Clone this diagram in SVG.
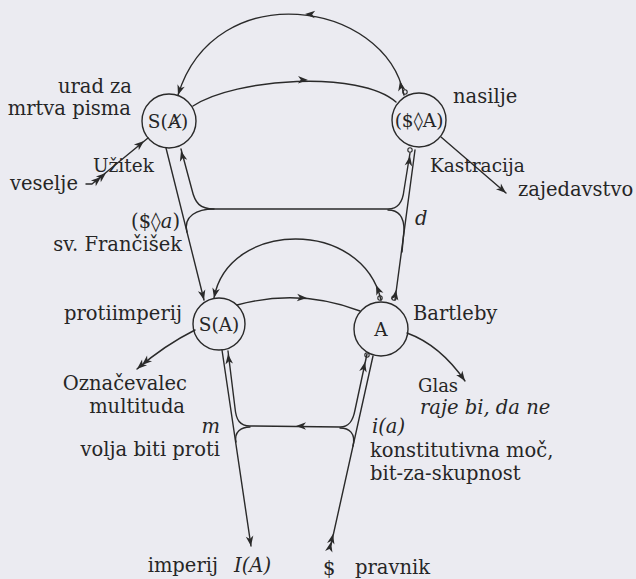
<svg xmlns="http://www.w3.org/2000/svg" xmlns:xlink="http://www.w3.org/1999/xlink" width="636" height="579" viewBox="0 0 636 579">
<style>
.bg{fill:#ebebf1}
.ln{fill:none;stroke:#2a2a2a;stroke-width:1.4;stroke-linecap:round;stroke-linejoin:round}
.nd{fill:none;stroke:#2a2a2a;stroke-width:1.4}
.tl{fill:none;stroke:#2a2a2a;stroke-width:1.1}
text{font-family:"DejaVu Serif","Liberation Serif",serif;font-size:19.5px;fill:#262626}
.it{font-style:italic}
.c{text-anchor:middle}
.e{text-anchor:end}
.sm{font-size:18.5px}
.xs{font-size:18px}
.ah{fill:#2a2a2a}
</style>
<defs>
<path id="ah" class="ah" d="M0,0 L-10,-3.8 L-7.2,0 L-10,3.8 Z"/>
</defs>
<rect class="bg" x="0" y="0" width="636" height="579"/>

<g id="connectors">
  <path class="ln" d="M178,95 C215,-25 385,0 404,95"/>
  <use xlink:href="#ah" transform="translate(305,14) rotate(183)"/>
  <use xlink:href="#ah" transform="translate(178,95) rotate(108)"/>
  <use xlink:href="#ah" transform="translate(400,81) rotate(-101)"/>
  <circle class="tl" cx="405" cy="92" r="2.2"/>
  <path class="ln" d="M193,106 C235,78 360,70 396,102"/>
  <use xlink:href="#ah" transform="translate(308,80) rotate(1)"/>
  <path class="ln" d="M86,184 L92,184 L148,138"/>
  <use xlink:href="#ah" transform="translate(144,141) rotate(-40)"/>
  <use xlink:href="#ah" transform="translate(101,177) rotate(-40)"/>
  <use xlink:href="#ah" transform="translate(106,173) rotate(-40)"/>
  <path class="ln" d="M441,137 L506,193"/>
  <use xlink:href="#ah" transform="translate(506,193) rotate(41)"/>
  <path class="ln" d="M166,148 L204,300"/>
  <use xlink:href="#ah" transform="translate(204,300) rotate(76)"/>
  <path class="ln" d="M415,150 L395,300"/>
  <use xlink:href="#ah" transform="translate(396,290) rotate(-82)"/>
  <circle class="tl" cx="394" cy="298" r="2.2"/>
  <path class="ln" d="M181,149 L192,190 C195,203 200,209 214,209 L388,209 C399,209 403,200 404,190 L410,153"/>
  <path class="ln" d="M214,209 C197,209 183,216 187,232"/>
  <path class="ln" d="M388,210 C400,210 404,218 404,230 L402,252"/>
  <use xlink:href="#ah" transform="translate(181,151) rotate(-105)"/>
  <use xlink:href="#ah" transform="translate(410,156) rotate(-81)"/>
  <circle class="tl" cx="410" cy="150" r="2.2"/>
  <path class="ln" d="M214,298 C228,220 362,218 381,300"/>
  <use xlink:href="#ah" transform="translate(214,298) rotate(102)"/>
  <use xlink:href="#ah" transform="translate(376,285) rotate(-113)"/>
  <circle class="tl" cx="380" cy="298" r="2.2"/>
  <path class="ln" d="M237,305 Q300,288 360,311"/>
  <use xlink:href="#ah" transform="translate(307,298) rotate(3)"/>
  <path class="ln" d="M407,333 Q440,345 465,381"/>
  <use xlink:href="#ah" transform="translate(465,381) rotate(55)"/>
  <path class="ln" d="M195,330 Q165,345 137,369"/>
  <use xlink:href="#ah" transform="translate(137,369) rotate(139)"/>
  <use xlink:href="#ah" transform="translate(142,365) rotate(139)"/>
  <path class="ln" d="M222,350 L251,546"/>
  <use xlink:href="#ah" transform="translate(251,546) rotate(81.6)"/>
  <path class="ln" d="M373,356 L331,545"/>
  <use xlink:href="#ah" transform="translate(333,534) rotate(-77)"/>
  <use xlink:href="#ah" transform="translate(331,542) rotate(-77)"/>
  <path class="ln" d="M228,351 L235,408 C236,420 240,426 250,426 L340,427 C349,427 353,421 355,410 L367,354"/>
  <path class="ln" d="M250,427 C241,427 234,432 236,442"/>
  <path class="ln" d="M340,428 C349,428 356,433 353,446"/>
  <use xlink:href="#ah" transform="translate(296,426) rotate(180)"/>
  <use xlink:href="#ah" transform="translate(228,354) rotate(-97)"/>
  <use xlink:href="#ah" transform="translate(365,362) rotate(-78)"/>
  <circle class="tl" cx="367" cy="355" r="2.2"/>
</g>

<g id="node-S-barredA-top">
  <circle class="nd" cx="169" cy="121" r="27"/>
  <text class="c sm" x="168" y="128">S(Ⱥ)</text>
</g>
<g id="node-S-losange-A">
  <circle class="nd" cx="419" cy="120" r="27"/>
  <text class="c sm" x="419" y="127">($◊A)</text>
</g>
<g id="node-S-A-lower">
  <circle class="nd" cx="219" cy="324" r="26"/>
  <text class="c sm" x="219" y="331">S(A)</text>
</g>
<g id="node-A">
  <circle class="nd" cx="381" cy="329" r="27"/>
  <text class="c sm" x="381" y="336">A</text>
</g>

<g id="labels">
  <text class="e" x="132" y="93">urad za</text>
  <text class="e" x="131" y="115">mrtva pisma</text>
  <text class="sm" x="93" y="172">Užitek</text>
  <text x="10" y="190">veselje</text>
  <text class="e" x="180" y="228">($◊<tspan class="it">a</tspan>)</text>
  <text class="e" x="182" y="251">sv. Frančišek</text>
  <text x="453" y="103">nasilje</text>
  <text class="sm" x="430" y="172">Kastracija</text>
  <text x="518" y="196">zajedavstvo</text>
  <text class="it" x="415" y="225">d</text>
  <text class="e" x="182" y="320">protiimperij</text>
  <text x="413" y="320">Bartleby</text>
  <text class="e" x="187" y="390">Označevalec</text>
  <text class="e" x="185" y="413">multituda</text>
  <text class="it e" x="220" y="433">m</text>
  <text class="e" x="220" y="456">volja biti proti</text>
  <text class="xs" x="418" y="392">Glas</text>
  <text class="it" x="420" y="414">raje bi, da ne</text>
  <text class="it" x="372" y="433">i(a)</text>
  <text x="370" y="457">konstitutivna moč,</text>
  <text x="370" y="480">bit-za-skupnost</text>
  <text class="e" x="218" y="572">imperij</text>
  <text class="it" x="234" y="572">I(A)</text>
  <text x="323" y="575">$</text>
  <text x="355" y="574">pravnik</text>
</g>
</svg>
